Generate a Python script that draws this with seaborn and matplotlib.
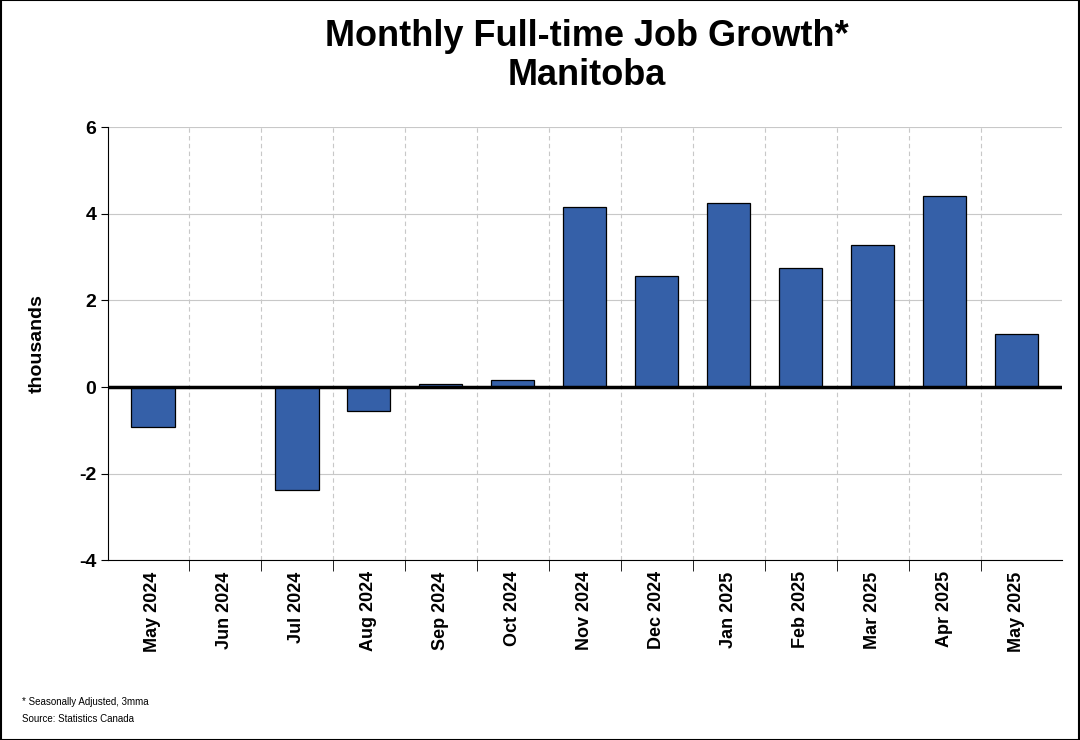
import matplotlib
matplotlib.use("Agg")
import matplotlib.pyplot as plt
import seaborn as sns
import pandas as pd
from matplotlib.patches import Rectangle

months = ['May 2024', 'Jun 2024', 'Jul 2024', 'Aug 2024', 'Sep 2024', 'Oct 2024', 'Nov 2024',
          'Dec 2024', 'Jan 2025', 'Feb 2025', 'Mar 2025', 'Apr 2025', 'May 2025']
growth = [-0.93, 0.0, -2.37, -0.56, 0.07, 0.16, 4.16, 2.56, 4.26, 2.74, 3.28, 4.42, 1.23]
yticks = [-4, -2, 0, 2, 4, 6]

plt.rcParams['font.family'] = 'Liberation Sans'
df = pd.DataFrame({'month': months, 'growth': growth})

fig = plt.figure(figsize=(10.8, 7.4), dpi=100)
ax = fig.add_axes([0.1, 0.243, 0.883, 0.585])
sns.barplot(data=df, x='month', y='growth', color='#3560A8', saturation=1,
            width=0.6, edgecolor='black', linewidth=0.9, ax=ax, zorder=3)

n = len(months)
ax.set_xlim(-0.625, n - 0.375)
ax.set_ylim(-4, 6)
ax.set_yticks(yticks)
ax.set_yticklabels([str(v) for v in yticks], fontsize=14, fontweight='bold')
ax.yaxis.grid(True, color='#c8c8c8', linewidth=0.8, zorder=0)
for i in range(n - 1):
    ax.axvline(i + 0.5, color='#c8c8c8', linestyle=(0, (4, 3)), linewidth=0.8, zorder=0)
ax.axhline(0, color='black', linewidth=2.5, zorder=4)

ax.set_xticks([i + 0.5 for i in range(n - 1)], minor=True)
ax.tick_params(axis='x', which='major', length=0, pad=8)
ax.tick_params(axis='x', which='minor', length=8, direction='out', color='black')
ax.tick_params(axis='y', length=5)
ax.set_xticks(range(n))
ax.set_xticklabels(months, rotation=90, fontsize=13, fontweight='bold')
ax.set_xlabel('')
ax.set_ylabel('thousands', fontsize=14, fontweight='bold', labelpad=24)
for s in ['top', 'right']:
    ax.spines[s].set_visible(False)

fig.suptitle('Monthly Full-time Job Growth*\nManitoba', fontsize=26, fontweight='bold',
             x=0.543, y=0.975, linespacing=1.15)
fig.text(0.02, 0.047, '* Seasonally Adjusted, 3mma', fontsize=7)
fig.text(0.02, 0.025, 'Source: Statistics Canada', fontsize=7)
fig.patches.append(Rectangle((0.0005, 0.0005), 0.999, 0.999, transform=fig.transFigure,
                             fill=False, edgecolor='black', linewidth=1.5))
fig.savefig('out.png', dpi=100)
